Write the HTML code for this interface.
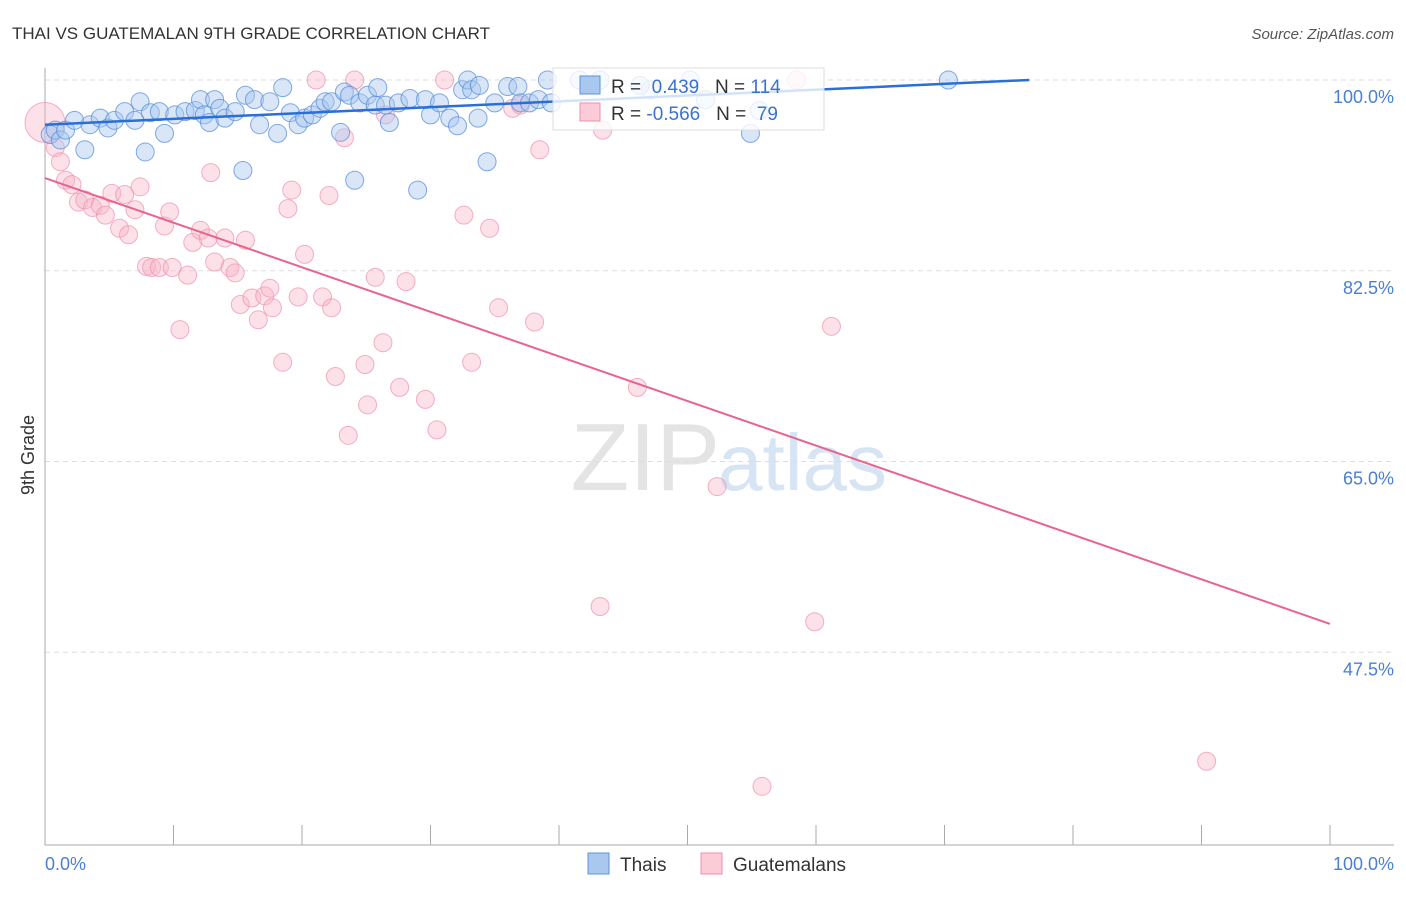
<!DOCTYPE html>
<html><head><meta charset="utf-8"><style>
body{margin:0;background:#fff;font-family:"Liberation Sans",sans-serif}
svg text{font-family:"Liberation Sans",sans-serif}
</style></head><body>
<svg width="1406" height="892" viewBox="0 0 1406 892">
<text x="12" y="39" font-size="17" fill="#333">THAI VS GUATEMALAN 9TH GRADE CORRELATION CHART</text>
<text x="1394" y="39" font-size="15" fill="#555" font-style="italic" text-anchor="end">Source: ZipAtlas.com</text>
<text x="720" y="490" font-size="96" fill="#e4e4e4" text-anchor="end" font-family="Liberation Serif">ZIP</text>
<text x="718" y="490" font-size="80" fill="#d6e4f3">atlas</text>
<g id="grid"></g>
<g id="axes"></g>
<g id="pts"></g>
<g id="lines"></g>
<text x="34" y="455" font-size="18" fill="#333" transform="rotate(-90 34 455)" text-anchor="middle">9th Grade</text>
<text x="45" y="870" font-size="18" fill="#4a7fd4">0.0%</text>
<text x="1394" y="870" font-size="18" fill="#4a7fd4" text-anchor="end">100.0%</text>
<g>
<rect x="553" y="68" width="271" height="62" fill="#fff" fill-opacity="0.8" stroke="#ddd"/>
<rect x="580" y="76" width="20" height="18" fill="#a9c8f0" stroke="#5b93dc"/>
<rect x="580" y="103" width="20" height="18" fill="#fbcbd8" stroke="#ef8fab"/>
<text x="611" y="93" font-size="19" fill="#333">R = <tspan fill="#3a73cf">&#160;0.439</tspan>&#160;&#160;&#160;N = <tspan fill="#3a73cf">114</tspan></text>
<text x="611" y="120" font-size="19" fill="#333">R = <tspan fill="#3a73cf">-0.566</tspan>&#160;&#160;&#160;N = <tspan fill="#3a73cf">&#160;79</tspan></text>
</g>
<g>
<rect x="588" y="853" width="21" height="21" fill="#a9c8f0" stroke="#5b93dc"/>
<text x="620" y="871" font-size="19" fill="#333">Thais</text>
<rect x="701" y="853" width="21" height="21" fill="#fbcbd8" stroke="#ef8fab"/>
<text x="733" y="871" font-size="19" fill="#333">Guatemalans</text>
</g>
</svg>
<script>
const thaiX=[0.4,0.8,1.2,1.6,2.3,3.1,3.5,4.3,4.9,5.4,6.2,7.0,7.4,7.8,8.2,8.9,9.3,10.1,10.9,11.7,12.1,12.4,12.8,13.2,13.6,14.0,14.8,15.4,15.6,16.3,16.7,17.5,18.1,18.5,19.1,19.7,20.2,20.8,21.4,21.8,22.3,23.0,23.3,23.7,24.1,24.5,25.1,25.7,25.9,26.5,26.8,27.5,28.4,29.0,29.6,30.0,30.7,31.5,32.1,32.5,32.9,33.2,33.7,33.8,34.4,35.0,36.0,36.8,37.0,37.7,38.4,39.1,39.4,41.6,43.2,47.1,50.2,51.4,54.9,70.3,55.6,46.3];
const thaiY=[95.0,95.4,94.5,95.4,96.3,93.6,95.9,96.5,95.6,96.3,97.1,96.3,98.0,93.4,97.0,97.1,95.1,96.8,97.1,97.2,98.2,96.8,96.1,98.2,97.4,96.5,97.1,91.7,98.6,98.2,95.9,98.0,95.1,99.3,97.0,95.9,96.5,96.8,97.4,98.0,98.0,95.2,98.9,98.6,90.8,97.9,98.6,97.7,99.3,97.7,96.1,97.9,98.3,89.9,98.2,96.8,97.9,96.5,95.8,99.1,100,99.1,96.5,99.5,92.5,97.9,99.4,99.4,97.9,97.9,98.2,100,97.9,100,100,99.1,100,98.2,95.1,100,97.2,99.5];
const guatX=[0,0.8,1.2,1.6,2.1,2.6,3.1,3.7,4.3,4.7,5.2,5.8,6.2,6.5,7.0,7.4,7.9,8.3,8.9,9.3,9.7,9.9,10.5,11.1,11.5,12.1,12.7,12.9,13.2,14.0,14.4,14.8,15.2,15.6,16.1,16.6,17.1,17.5,17.7,18.5,18.9,19.2,19.7,20.2,21.1,21.6,22.1,22.3,22.6,23.3,23.6,24.1,24.9,25.1,25.7,26.3,26.5,27.6,28.1,29.6,30.5,31.1,32.6,33.2,34.6,35.3,36.4,37.0,38.1,38.5,43.2,43.4,46.1,52.3,58.5,59.9,61.2,55.8,90.4];
const guatY=[96.1,93.8,92.5,90.8,90.4,88.8,89.0,88.3,88.5,87.6,89.6,86.4,89.5,85.8,88.1,90.2,82.9,82.8,82.8,86.6,87.9,82.8,77.1,82.1,85.1,86.2,85.5,91.5,83.3,85.5,82.8,82.3,79.4,85.3,80.0,78.0,80.2,80.9,79.1,74.1,88.2,89.9,80.1,84.0,100,80.1,89.4,79.1,72.8,94.7,67.4,100,73.9,70.2,81.9,75.9,96.8,71.8,81.5,70.7,67.9,100,87.6,74.1,86.4,79.1,97.4,97.7,77.8,93.6,51.7,95.4,71.8,62.7,100,50.3,77.4,35.2,37.5];
const yTicks=[100,82.5,65,47.5];
const yTickLabels=["100.0%","82.5%","65.0%","47.5%"];
const xTicks=[0,10,20,30,40,50,60,70,80,90,100];
const thaiTrend=[[0,95.9],[76.6,100]];
const guatTrend=[[0,91.0],[100,50.1]];
const NS='http://www.w3.org/2000/svg';
const sx=v=>45+v*12.85, sy=v=>80+(100-v)*10.9;
function mk(t,a,p){const e=document.createElementNS(NS,t);for(const k in a)e.setAttribute(k,a[k]);p.appendChild(e);return e;}
const grid=document.getElementById('grid'),axes=document.getElementById('axes'),pts=document.getElementById('pts'),lines=document.getElementById('lines');
yTicks.forEach((v,i)=>{
 const l=mk('line',{x1:45,x2:1394,y1:sy(v),y2:sy(v),stroke:'#ddd','stroke-dasharray':'5,4'},grid);
 
 
 const t=mk('text',{x:1394,y:sy(v)+23,'font-size':18,fill:'#4a7fd4','text-anchor':'end'},grid);
 t.textContent=yTickLabels[i];
 
 
});
const ax=mk('line',{x1:45,x2:45,y1:68,y2:845,stroke:'#aaa'},axes);


const bx=mk('line',{x1:45,x2:1394,y1:845,y2:845,stroke:'#aaa'},axes);


xTicks.forEach(v=>{
 const t=mk('line',{x1:sx(v),x2:sx(v),y1:825,y2:845,stroke:'#aaa'},axes);
 
 
});
guatX.forEach((x,i)=>{
 const c=mk('circle',{cx:sx(x),cy:sy(guatY[i]),r:i==0?20:9,fill:'#f7b3c8','fill-opacity':0.4,stroke:'#f08fae','stroke-opacity':0.7},pts);
 
 
});
thaiX.forEach((x,i)=>{
 const c=mk('circle',{cx:sx(x),cy:sy(thaiY[i]),r:9,fill:'#a9c8f0','fill-opacity':0.45,stroke:'#4e88d8','stroke-opacity':0.7},pts);
 
 
});
const tl=mk('line',{x1:sx(thaiTrend[0][0]),y1:sy(thaiTrend[0][1]),x2:sx(thaiTrend[1][0]),y2:sy(thaiTrend[1][1]),stroke:'#2a6fd6','stroke-width':2.5},lines);


const gl=mk('line',{x1:sx(guatTrend[0][0]),y1:sy(guatTrend[0][1]),x2:sx(guatTrend[1][0]),y2:sy(guatTrend[1][1]),stroke:'#e8648f','stroke-width':2},lines);


</script>
</body></html>
